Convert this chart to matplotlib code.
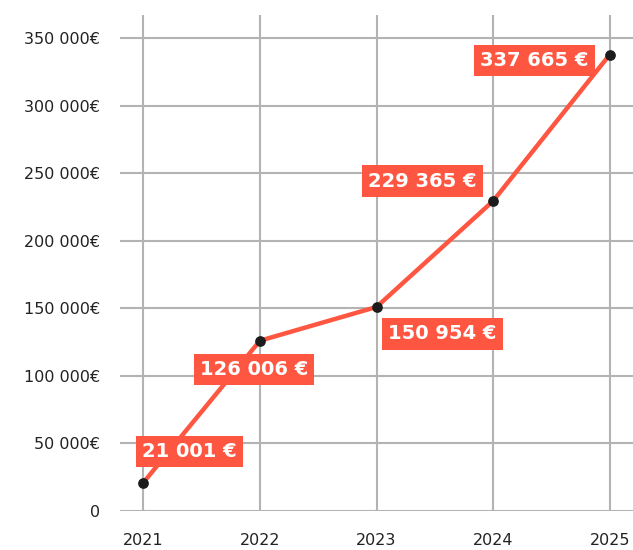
import matplotlib
matplotlib.use('Agg')
import matplotlib.pyplot as plt
from matplotlib.ticker import FuncFormatter

years = [2021, 2022, 2023, 2024, 2025]
revenue = [21001, 126006, 150954, 229365, 337665]
y_ticks = [0, 50000, 100000, 150000, 200000, 250000, 300000, 350000]
# label offsets in pixels (dx, dy) relative to each point
label_offsets = [(46, 31), (-6, -29), (66, -27), (-71, 20), (-75, -6)]

RED = '#ff5641'


def fmt_eur(v, sep=' '):
    return f'{int(v):,}'.replace(',', sep)


fig = plt.figure(figsize=(6.33, 5.5), dpi=100)
ax = fig.add_axes([120 / 633, 39 / 550, 513 / 633, 496 / 550])

ax.plot(years, revenue, color=RED, lw=3.2, zorder=3, solid_capstyle='round')
ax.scatter(years, revenue, s=45, color='#1c1c1c', zorder=4)

for x, v, (dx, dy) in zip(years, revenue, label_offsets):
    ax.annotate(fmt_eur(v) + ' €', (x, v), xytext=(dx * 0.72, dy * 0.72),
                textcoords='offset points', ha='center', va='center',
                fontsize=14, fontweight='bold', color='white',
                bbox=dict(boxstyle='square,pad=0.32', fc=RED, ec='none'), zorder=5)

ax.set_xlim(2020.8, 2025.2)
ax.set_ylim(0, 367000)
ax.set_xticks(years)
ax.set_yticks(y_ticks)
ax.yaxis.set_major_formatter(FuncFormatter(lambda v, p: '0' if v == 0 else fmt_eur(v) + '€'))
ax.grid(True, color='#b3b3b3', lw=1.5)
ax.set_axisbelow(True)
for s in ax.spines.values():
    s.set_visible(False)
ax.tick_params(length=0, labelsize=11.5, colors='#222222')
ax.tick_params(axis='y', pad=14.4)
ax.tick_params(axis='x', pad=16)

fig.savefig('out.png', dpi=100)
